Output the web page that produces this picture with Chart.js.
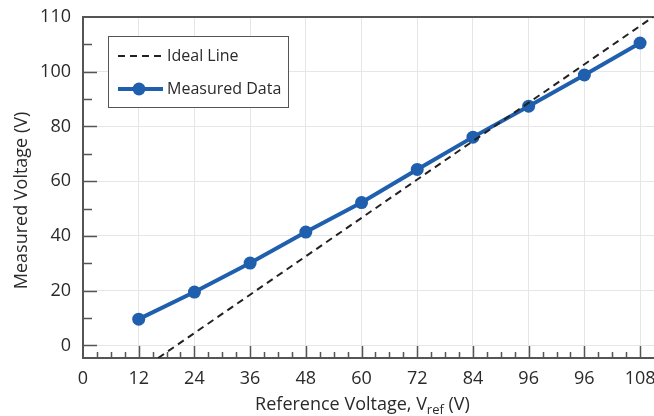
<!DOCTYPE html>
<html>
<head>
<meta charset="utf-8">
<script src="https://cdn.jsdelivr.net/npm/chart.js@4.4.0/dist/chart.umd.min.js"></script>
<style>
  html, body { margin: 0; padding: 0; background: #fff; }
</style>
</head>
<body>
<canvas id="voltage-chart" width="654" height="416"></canvas>
<script>
// tick positions and the labels printed under / beside them (as in the source figure)
const xTickValues = [0, 12, 24, 36, 48, 60, 72, 84, 96, 108, 120];
const xTickLabels = ["0", "12", "24", "36", "48", "60", "72", "84", "96", "96", "108"];
const yTickValues = [0, 20, 40, 60, 80, 100, 120];
const yTickLabels = ["0", "20", "40", "60", "80", "100", "110"];

const measuredX = [12, 24, 36, 48, 60, 72, 84, 96, 108, 120];
const measuredY = [9.6, 19.5, 30.1, 41.4, 52.2, 64.3, 76.1, 87.4, 98.8, 110.5];

const idealX = [16.2, 122.8];
const idealY = [-4.6, 120];

const textColor = "#2a2a2a";
const axisColor = "#555";
Chart.defaults.font.family = "'Open Sans', 'Noto Sans', sans-serif";
Chart.defaults.color = textColor;

// tick marks drawn inward, plus the top frame line
const innerTicks = {
  id: "innerTicks",
  beforeDatasetsDraw(chart) {
    const { ctx, chartArea: a, scales: { x, y } } = chart;
    ctx.save();
    ctx.strokeStyle = axisColor;
    ctx.lineWidth = 1.5;
    ctx.beginPath();
    for (let v = 3; v <= 120; v += 3) {
      const px = Math.round(x.getPixelForValue(v)) + 0.5;
      const len = v % 12 === 0 ? 12 : 6;
      ctx.moveTo(px, a.bottom);
      ctx.lineTo(px, a.bottom - len);
    }
    for (let v = 0; v < 120; v += 10) {
      const py = Math.round(y.getPixelForValue(v)) + 0.5;
      const len = v % 20 === 0 ? 14 : 9;
      ctx.moveTo(a.left, py);
      ctx.lineTo(a.left + len, py);
    }
    ctx.stroke();
    ctx.lineWidth = 2;
    ctx.beginPath();
    ctx.moveTo(a.left, a.top);
    ctx.lineTo(a.right, a.top);
    ctx.stroke();
    ctx.restore();
  },
};

// boxed legend inside the plot, upper left
const legendBox = {
  id: "legendBox",
  afterDatasetsDraw(chart) {
    const { ctx, chartArea } = chart;
    const x = chartArea.left + 25, y = chartArea.top + 19, w = 180, h = 71;
    ctx.save();
    ctx.fillStyle = "#fff";
    ctx.fillRect(x, y, w, h);
    ctx.strokeStyle = axisColor;
    ctx.lineWidth = 1;
    ctx.strokeRect(x + 0.5, y + 0.5, w, h);
    chart.data.datasets.forEach((ds, i) => {
      const ly = y + 20 + i * 33;
      ctx.strokeStyle = ds.borderColor;
      ctx.lineWidth = ds.borderWidth;
      ctx.setLineDash(ds.borderDash || []);
      ctx.beginPath();
      ctx.moveTo(x + 10, ly);
      ctx.lineTo(x + 55, ly);
      ctx.stroke();
      ctx.setLineDash([]);
      if (ds.pointRadius) {
        ctx.fillStyle = ds.pointBackgroundColor;
        ctx.beginPath();
        ctx.arc(x + 31, ly, ds.pointRadius, 0, Math.PI * 2);
        ctx.fill();
      }
      ctx.fillStyle = textColor;
      ctx.font = "16px 'Open Sans'";
      ctx.textBaseline = "middle";
      ctx.fillText(ds.label, x + 59, ly);
    });
    ctx.restore();
  },
};

// axis titles (x one has a subscript), drawn by hand
const axisTitles = {
  id: "axisTitles",
  afterDraw(chart) {
    const { ctx, chartArea: a } = chart;
    ctx.save();
    ctx.fillStyle = textColor;

    // y title, rotated
    ctx.font = "18px 'Open Sans'";
    ctx.textAlign = "center";
    ctx.textBaseline = "middle";
    ctx.translate(22, (a.top + a.bottom) / 2 + 13);
    ctx.rotate(-Math.PI / 2);
    ctx.fillText("Measured Voltage (V)", 0, 0);
    ctx.setTransform(1, 0, 0, 1, 0, 0);

    // x title
    const parts = [["Reference Voltage, V", 18, 0], ["ref", 13, 4], [" (V)", 18, 0]];
    ctx.textAlign = "left";
    ctx.textBaseline = "alphabetic";
    let total = 0;
    parts.forEach(p => { ctx.font = p[1] + "px 'Open Sans'"; total += ctx.measureText(p[0]).width; });
    let cx = (a.left + a.right) / 2 - 6 - total / 2;
    const base = chart.height - 6;
    parts.forEach(p => {
      ctx.font = p[1] + "px 'Open Sans'";
      ctx.fillText(p[0], cx, base + p[2]);
      cx += ctx.measureText(p[0]).width;
    });
    ctx.restore();
  },
};

const config = {
  type: "line",
  data: {
    datasets: [
      {
        label: "Ideal Line",
        data: idealX.map((x, i) => ({ x, y: idealY[i] })),
        borderColor: "#222",
        borderWidth: 2,
        borderDash: [7, 5],
        pointRadius: 0,
        tension: 0,
      },
      {
        label: "Measured Data",
        data: measuredX.map((x, i) => ({ x, y: measuredY[i] })),
        borderColor: "#1f5fae",
        backgroundColor: "#1f5fae",
        pointBackgroundColor: "#1f5fae",
        borderWidth: 4,
        pointRadius: 6.5,
        pointBorderWidth: 0,
        tension: 0,
      },
    ],
  },
  options: {
    responsive: false,
    animation: false,
    layout: { autoPadding: false, padding: { top: 17, right: 0, left: 0, bottom: 0 } },
    plugins: {
      legend: { display: false },
      tooltip: { enabled: false },
    },
    scales: {
      x: {
        type: "linear",
        min: 0,
        max: 123,
        afterBuildTicks: s => { s.ticks = xTickValues.map(v => ({ value: v })); },
        afterFit: s => { s.height = 58; s.paddingLeft = 0; s.paddingRight = 0; },
        ticks: {
          autoSkip: false,
          maxRotation: 0,
          padding: 10,
          font: { size: 18 },
          callback: (v, i) => xTickLabels[i],
        },
        grid: {
          color: c => (c.index === 0 ? "rgba(0,0,0,0)" : "#e6e6e6"),
          drawTicks: false,
        },
        border: { color: axisColor, width: 2 },
      },
      y: {
        type: "linear",
        min: -4.6,
        max: 120,
        afterBuildTicks: s => { s.ticks = yTickValues.map(v => ({ value: v })); },
        afterFit: s => { s.width = 83; s.paddingTop = 0; s.paddingBottom = 0; },
        ticks: {
          padding: 12,
          font: { size: 18 },
          callback: (v, i) => yTickLabels[i],
        },
        grid: {
          color: c => (c.tick && c.tick.value === 120 ? "rgba(0,0,0,0)" : "#e6e6e6"),
          drawTicks: false,
        },
        border: { color: axisColor, width: 2 },
      },
    },
  },
  plugins: [innerTicks, legendBox, axisTitles],
};

new Chart(document.getElementById("voltage-chart").getContext("2d"), config);
</script>
</body>
</html>
